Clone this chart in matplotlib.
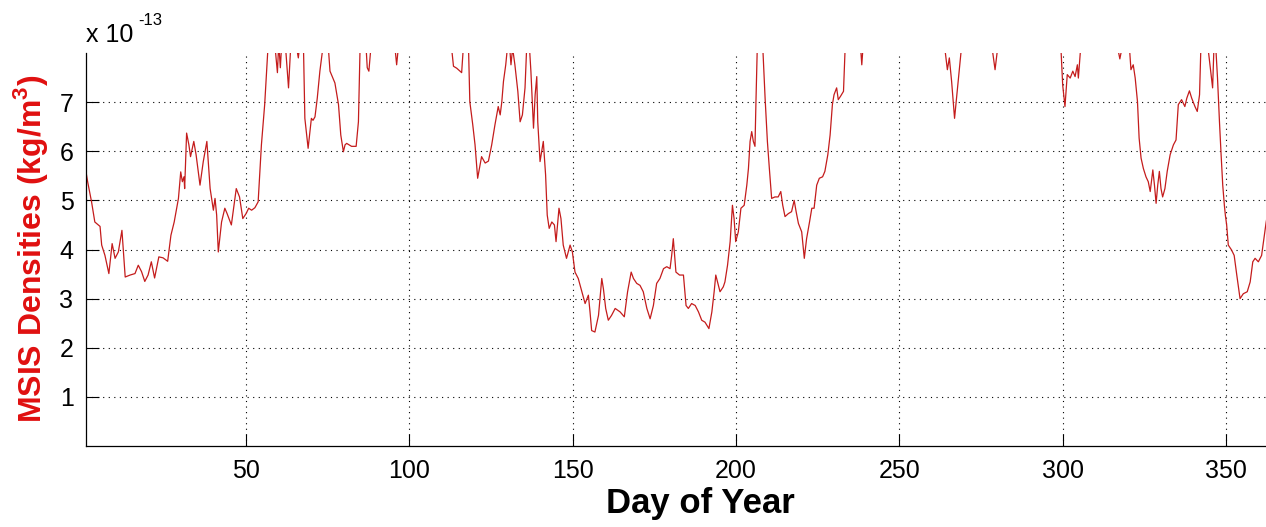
import numpy as np
import matplotlib
matplotlib.use('Agg')
import matplotlib.pyplot as plt

plt.rcParams['font.family'] = ['Liberation Sans', 'DejaVu Sans']
plt.rcParams['mathtext.fontset'] = 'custom'
plt.rcParams['mathtext.rm'] = 'Liberation Sans'
plt.rcParams['mathtext.bf'] = 'Liberation Sans:bold'

# densidad MSIS por dia del año (unidades de 1e-13 kg/m^3)
dia = [1.0, 1.5, 2.7, 3.7, 4.8, 5.3, 5.8, 6.8, 8.0, 9.0, 9.9, 10.9, 12.0, 13.0, 14.5,
       16.0, 17.0, 18.0, 19.0, 20.0, 21.0, 22.0, 23.3, 24.6, 26.0, 27.0, 28.0, 29.3,
       30.0, 30.5, 31.0, 31.2, 31.8, 32.5, 33.0, 34.0, 34.7, 35.9, 36.9, 38.0, 39.0,
       40.0, 40.5, 41.0, 41.5, 42.5, 43.5, 44.2, 45.5, 47.0, 48.0, 49.0, 50.0, 50.8,
       51.7, 52.7, 53.7, 54.7, 55.7, 56.7, 57.5, 58.5, 59.2, 59.6, 60.0, 60.5, 61.0,
       62.0, 63.0, 63.8, 64.5, 65.5, 66.0, 66.5, 67.6, 68.0, 69.0, 70.0, 70.5, 71.1,
       71.8, 72.6, 73.5, 74.5, 75.2, 75.7, 77.2, 78.3, 79.0, 79.8, 80.3, 80.8, 82.3,
       83.7, 84.4, 84.9, 86.0, 86.8, 87.1, 87.6, 88.2, 90.0, 92.0, 94.0, 95.6, 96.1,
       96.6, 99.0, 102.0, 105.0, 108.0, 111.0, 113.0, 113.5, 114.5, 116.0, 116.5,
       118.0, 118.5, 119.4, 120.1, 120.9, 122.1, 123.2, 124.2, 125.2, 126.2, 127.2,
       127.8, 128.3, 128.8, 129.5, 130.0, 130.5, 131.1, 131.6, 132.3, 133.2, 133.9,
       134.6, 135.4, 135.9, 136.5, 137.2, 138.0, 138.5, 139.0, 139.3, 140.0, 141.0,
       141.7, 142.2, 142.8, 143.6, 144.4, 144.9, 145.8, 146.4, 147.1, 148.1, 149.2,
       149.9, 150.7, 151.7, 152.8, 153.8, 154.8, 155.3, 155.8, 156.8, 157.9, 158.9,
       159.4, 160.1, 160.9, 161.9, 163.0, 164.5, 165.8, 166.8, 167.9, 168.6, 169.6,
       170.6, 171.6, 172.7, 173.7, 174.7, 175.7, 176.7, 177.8, 178.8, 179.8, 180.3,
       180.8, 181.6, 182.7, 183.9, 184.7, 185.4, 186.4, 187.5, 188.5, 189.5, 190.5,
       191.7, 192.6, 193.3, 193.8, 194.6, 195.1, 196.1, 196.6, 197.4, 198.2, 198.9,
       199.4, 199.9, 200.7, 201.5, 202.5, 203.3, 203.8, 204.3, 204.8, 205.3, 205.8,
       206.1, 206.5, 207.3, 208.2, 208.9, 209.6, 210.2, 210.9, 211.9, 212.9, 213.7,
       214.3, 215.0, 216.0, 217.0, 217.8, 218.4, 219.1, 220.1, 220.9, 221.6, 222.5,
       223.2, 223.9, 224.7, 225.5, 226.5, 227.2, 228.1, 228.8, 229.5, 230.0, 230.8,
       231.3, 232.0, 232.9, 233.4, 234.5, 236.0, 237.5, 238.2, 238.5, 238.8, 242.0,
       246.0, 250.0, 254.0, 258.0, 262.0, 264.0, 264.7, 265.3, 266.0, 266.9, 267.6,
       268.3, 269.0, 272.0, 275.0, 278.5, 279.3, 280.0, 284.0, 288.0, 292.0, 296.0,
       299.5, 300.0, 300.7, 301.4, 302.3, 303.1, 303.8, 304.5, 304.8, 305.5, 309.0,
       313.0, 317.0, 317.5, 318.0, 320.5, 320.9, 321.6, 322.2, 322.9, 323.4, 324.0,
       324.7, 325.5, 326.2, 326.8, 327.6, 328.1, 328.6, 329.1, 329.6, 330.1, 330.6,
       331.3, 332.0, 332.9, 333.9, 334.7, 335.4, 336.4, 337.4, 338.0, 338.8, 339.5,
       340.5, 341.2, 341.9, 342.3, 343.5, 344.5, 345.1, 345.6, 345.9, 346.3, 346.8,
       347.4, 348.0, 348.5, 349.0, 349.5, 349.8, 350.2, 350.7, 351.7, 352.5, 353.3,
       354.3, 355.3, 356.5, 357.4, 358.2, 358.9, 359.9, 360.9, 361.6, 362.3, 363.5]

densidad = [5.58, 5.38, 4.97, 4.56, 4.50, 4.47, 4.09, 3.88, 3.51, 4.12, 3.82, 3.95, 4.39, 3.44, 3.48,
            3.51, 3.68, 3.55, 3.35, 3.48, 3.75, 3.42, 3.85, 3.83, 3.76, 4.29, 4.56, 5.04,
            5.58, 5.38, 5.48, 5.24, 6.37, 6.13, 5.89, 6.20, 5.93, 5.31, 5.79, 6.20, 5.24,
            4.80, 5.04, 4.70, 3.95, 4.56, 4.84, 4.73, 4.50, 5.24, 5.07, 4.63, 4.73, 4.84,
            4.80, 4.85, 4.97, 6.13, 6.95, 8.10, 8.60, 8.40, 7.90, 7.60, 8.20, 7.70, 8.30,
            8.20, 7.29, 8.30, 8.50, 8.10, 7.90, 8.20, 8.05, 6.67, 6.06, 6.67, 6.63, 6.70,
            7.08, 7.63, 8.10, 8.50, 8.10, 7.63, 7.39, 6.95, 6.33, 5.99, 6.13, 6.16, 6.10,
            6.10, 6.60, 8.10, 8.60, 8.05, 7.70, 7.63, 8.10, 8.90, 9.20, 8.70, 8.10, 7.76,
            8.10, 8.80, 9.30, 9.10, 8.90, 8.60, 8.05, 7.73, 7.69, 7.60, 8.10,
            8.40, 7.01, 6.54, 6.13, 5.45, 5.89, 5.76, 5.80, 6.13, 6.54, 6.91,
            6.74, 7.01, 7.42, 7.76, 8.10, 8.30, 7.76, 8.10, 7.76, 7.22, 6.60,
            6.74, 7.29, 8.10, 8.40, 7.63, 6.47, 7.15, 7.52, 6.60, 5.79, 6.20,
            5.52, 4.70, 4.43, 4.56, 4.50, 4.16, 4.84, 4.63, 4.09, 3.82, 4.09,
            3.95, 3.54, 3.41, 3.14, 2.90, 3.07, 2.73, 2.35, 2.32, 2.66, 3.41,
            3.20, 2.80, 2.56, 2.66, 2.80, 2.73, 2.63, 3.14, 3.54, 3.41, 3.31,
            3.27, 3.14, 2.80, 2.59, 2.86, 3.31, 3.41, 3.61, 3.65, 3.61, 3.88,
            4.22, 3.54, 3.48, 3.48, 2.86, 2.80, 2.90, 2.86, 2.73, 2.56, 2.52,
            2.39, 2.73, 3.14, 3.48, 3.27, 3.14, 3.24, 3.34, 3.68, 4.16, 4.90,
            4.63, 4.16, 4.36, 4.84, 4.90, 5.31, 5.65, 6.20, 6.40, 6.20, 6.10,
            7.01, 8.10, 8.80, 8.10, 7.08, 6.20, 5.65, 5.04, 5.07, 5.07, 5.18,
            4.90, 4.67, 4.73, 4.77, 5.00, 4.77, 4.53, 4.36, 3.82, 4.22, 4.56,
            4.84, 4.84, 5.31, 5.45, 5.48, 5.59, 5.93, 6.33, 6.95, 7.15, 7.29,
            7.05, 7.12, 7.22, 8.10, 8.60, 8.80, 8.30, 8.05, 7.76, 8.05, 8.90,
            9.40, 9.20, 9.00, 8.70, 8.20, 8.05, 7.66, 7.90, 7.42, 6.67, 7.15,
            7.63, 8.10, 8.70, 8.40, 8.05, 7.66, 8.05, 8.80, 9.30, 9.10, 8.60,
            8.05, 7.35, 6.91, 7.56, 7.49, 7.63, 7.52, 7.76, 7.49, 8.10, 8.70,
            8.40, 8.05, 7.88, 8.05, 8.05, 7.66, 7.76, 7.49, 7.01, 6.27, 5.86,
            5.65, 5.48, 5.38, 5.18, 5.62, 5.31, 4.94, 5.31, 5.59, 5.24, 5.07,
            5.24, 5.59, 5.93, 6.13, 6.23, 6.95, 7.05, 6.91, 7.08, 7.23, 7.08,
            6.91, 6.81, 7.15, 8.10, 8.60, 8.10, 7.76, 7.49, 7.29, 8.10, 8.20,
            7.49, 6.60, 5.93, 5.31, 4.90, 4.70, 4.50, 4.09, 3.99, 3.88, 3.48,
            3.00, 3.10, 3.14, 3.34, 3.75, 3.82, 3.75, 3.88, 4.22, 4.56, 5.00]

xticks = [50, 100, 150, 200, 250, 300, 350]
yticks = [1, 2, 3, 4, 5, 6, 7]

W, H = 1266, 527
fig = plt.figure(figsize=(W / 100, H / 100), dpi=100)
ax = fig.add_axes([86 / W, 81 / H, 1189 / W, 393 / H])

ax.plot(dia, densidad, color='#c41c1c', linewidth=0.9)

ax.set_xlim(1, 365)
ax.set_ylim(0, 8)
ax.set_xticks(xticks)
ax.set_yticks(yticks)
ax.tick_params(direction='in', length=9, width=0.8, labelsize=18, colors='black')
ax.tick_params(axis='x', pad=9)
ax.tick_params(axis='y', pad=9)
ax.grid(True, color='black', linestyle=(0, (1, 4)), linewidth=0.8)
ax.spines['top'].set_visible(False)
ax.spines['right'].set_visible(False)
for s in ['left', 'bottom']:
    ax.spines[s].set_linewidth(0.9)

# multiplicador del eje y
fig.text(86 / W, 1 - 42 / H, 'x 10', fontsize=18, ha='left', va='baseline')
fig.text(138 / W, 1 - 25 / H, '-13', fontsize=12, ha='left', va='baseline')

fig.text(31 / W, 1 - 249 / H, r'MSIS Densities (kg/m$^\mathbf{3}$)', rotation=90,
         fontsize=23, fontweight='bold', color='#e01010', ha='center', va='center')
fig.text(700 / W, 1 - 503 / H, 'Day of Year', fontsize=25, fontweight='bold',
         ha='center', va='center')

fig.savefig('out.png', dpi=100)
